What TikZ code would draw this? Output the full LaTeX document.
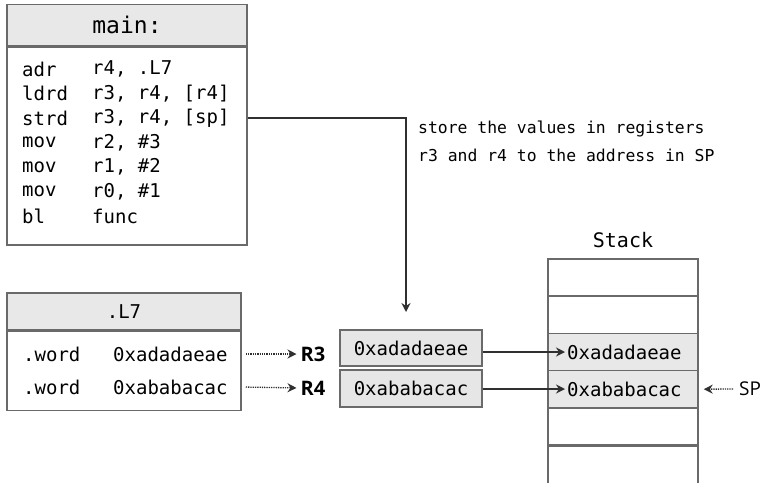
\documentclass[tikz,border=0pt]{standalone}
\usepackage{fontspec}
\setmonofont{DejaVu Sans Mono}
\setsansfont{Open Sans}
\usepackage{tikz}
\usetikzlibrary{arrows.meta,positioning,calc}

\definecolor{boxline}{HTML}{6A6A6A}
\definecolor{hdrfill}{HTML}{E8E8E8}
\definecolor{regfill}{HTML}{E6E6E6}
\definecolor{arrowcol}{HTML}{303030}

\tikzset{
	hdr/.style={draw=boxline, line width=1.5pt, fill=hdrfill, inner sep=0},
	cell/.style={draw=boxline, line width=1.5pt, fill=white, inner sep=0},
	code/.style={anchor=west, inner sep=0},
	regbox/.style={draw=boxline, line width=1.5pt, fill=regfill, inner sep=0, minimum width=142pt},
	reglbl/.style={inner sep=0, font=\sffamily\bfseries\fontsize{20}{24}\selectfont},
	solidarrow/.style={->, draw=arrowcol, line width=1.6pt},
	dotarrow/.style={->, draw=arrowcol, line width=1.3pt, densely dotted}
}

\begin{document}
\begin{tikzpicture}[x=1pt, y=-1pt, >={Stealth[length=9pt,width=9pt]}, font=\ttfamily\fontsize{19}{23}\selectfont]
		\useasboundingbox (0,0) rectangle (768,482);
		% main: box with the code lines
		\node[hdr, minimum width=240pt, minimum height=41pt, font=\ttfamily\fontsize{23}{26}\selectfont] (mainhd) at (127,25) {main:};
		\node[cell, minimum width=240pt, minimum height=198pt, anchor=north] (mainbd) at (mainhd.south) {};
		\foreach \op/\args [count=\i] in {adr/{r4, .L7}, ldrd/{r3, r4, [r4]}, strd/{r3, r4, [sp]}, mov/{r2, \#3}, mov/{r1, \#2}, mov/{r0, \#1}, bl/func}
		{
			\node[code] (op\i) at (22,{69+24.5*(\i-1)}) {\op};
			\node[code] (arg\i) at (92,{69+24.5*(\i-1)}) {\args};
		}
		% note on the store
		\coordinate (storeend) at (406,312);
		\draw[solidarrow] (mainbd.east |- arg3) -| (storeend);
		\node[anchor=west, align=left, inner sep=0, font=\ttfamily\fontsize{16.4}{28}\selectfont] (storenote) at (418,141) {store the values in registers\\r3 and r4 to the address in SP};
		% .L7 box
		\node[hdr, minimum width=234pt, minimum height=37pt] (l7hd) at (124,311.5) {.L7};
		\node[cell, minimum width=234pt, minimum height=79pt, anchor=north] (l7bd) at (l7hd.south) {};
		\node[code] (word1) at (23,354) {.word};
		\node[code] (val1) at (113,354) {0xadadaeae};
		\node[code] (word2) at (23,387) {.word};
		\node[code] (val2) at (113,387) {0xababacac};
		% registers
		\node[reglbl] (r3lbl) at (313,354) {R3};
		\node[reglbl] (r4lbl) at (313,388) {R4};
		\draw[dotarrow, shorten <=4pt, shorten >=4pt] (l7bd.east |- val1) -- (r3lbl.west);
		\draw[dotarrow, shorten <=4pt, shorten >=4pt] (l7bd.east |- val2) -- (r4lbl.west);
		\node[regbox, minimum height=36pt] (r3box) at (411,348) {0xadadaeae};
		\node[regbox, minimum height=37pt] (r4box) at (411,388.5) {0xababacac};
		% stack
		\node[font=\ttfamily\fontsize{20}{24}\selectfont, inner sep=0] (stacklbl) at (623,240) {Stack};
		\foreach \i in {0,...,4}
		{
			\node[cell, minimum width=150pt, minimum height=37.2pt] (st\i) at (623,{277.6+37.2*\i}) {};
		}
		\node[cell, minimum width=150pt, minimum height=50pt, anchor=north] (st5) at (st4.south) {};
		\node[hdr, minimum width=150pt, minimum height=37.2pt] (st2) at (623,352) {};
		\node[hdr, minimum width=150pt, minimum height=37.2pt] (st3) at (623,389.2) {};
		\node[code] (stv1) at (567,352) {0xadadaeae};
		\node[code] (stv2) at (567,389) {0xababacac};
		\draw[solidarrow, shorten >=2pt] (r3box.east |- stv1) -- (stv1.west);
		\draw[solidarrow, shorten >=2pt] (r4box.east |- stv2) -- (stv2.west);
		% stack pointer
		\node[anchor=west, inner sep=0, font=\sffamily\fontsize{19}{23}\selectfont] (splbl) at (739,389) {SP};
		\draw[dotarrow, shorten <=6pt, shorten >=5pt] (splbl.west) -- (st3.east);
	\end{tikzpicture}
\end{document}
